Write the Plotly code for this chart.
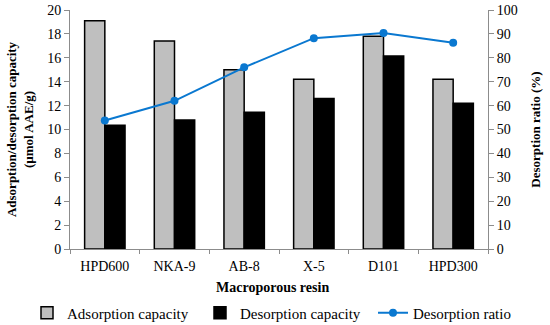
import plotly.graph_objects as go

resins = ["HPD600", "NKA-9", "AB-8", "X-5", "D101", "HPD300"]
adsorption = [19.1, 17.4, 15.0, 14.2, 17.8, 14.2]
desorption = [10.35, 10.8, 11.45, 12.6, 16.15, 12.2]
ratio = [53.8, 62.0, 76.0, 88.2, 90.4, 86.3]

FONT = "Liberation Serif"
AX = "#8c8c8c"
TICKFONT = dict(family=FONT, size=14, color="black")

fig = go.Figure()
fig.add_trace(go.Bar(x=resins, y=adsorption, name="Adsorption capacity", legend="legend",
                     marker=dict(color="#bfbfbf", line=dict(color="black", width=1.5))))
fig.add_trace(go.Bar(x=resins, y=desorption, name="Desorption capacity", legend="legend2",
                     marker=dict(color="black", line=dict(color="black", width=1.5))))
fig.add_trace(go.Scatter(x=resins, y=ratio, name="Desorption ratio", yaxis="y2",
                         legend="legend3",
                         mode="lines+markers", line=dict(color="#0a78d0", width=2),
                         marker=dict(color="#0a78d0", size=8)))

def leg(x):
    return dict(orientation="h", xref="container", yref="container",
                x=x, xanchor="left", y=0.037, yanchor="middle",
                font=dict(family=FONT, size=15), itemwidth=30,
                bgcolor="rgba(0,0,0,0)")

fig.update_layout(
    width=550, height=325,
    margin=dict(l=70, r=62, t=10, b=76, autoexpand=False),
    paper_bgcolor="white", plot_bgcolor="white",
    font=dict(family=FONT, size=14, color="black"),
    barmode="group", bargap=0.42, bargroupgap=0,
    showlegend=True,
    legend=leg(27 / 550),
    legend2=leg(200 / 550),
    legend3=leg(373 / 550),
    xaxis=dict(showline=True, linecolor=AX, linewidth=1, ticks="outside", tickcolor=AX,
               ticklen=4, tickson="boundaries", showgrid=False, tickfont=TICKFONT,
               ticklabelstandoff=4),
    yaxis=dict(range=[0, 20], dtick=2, showline=True, linecolor=AX, ticks="outside",
               tickcolor=AX, ticklen=5, showgrid=False, zeroline=False, tickfont=TICKFONT,
               title=dict(text="<b>Adsorption/desorption capacity<br>(µmol AAE/g)</b>",
                          font=dict(family=FONT, size=13), standoff=10)),
    yaxis2=dict(range=[0, 100], dtick=10, overlaying="y", side="right", showline=True,
                linecolor=AX, ticks="outside", tickcolor=AX, ticklen=5, showgrid=False,
                zeroline=False, tickfont=TICKFONT,
                title=dict(text="<b>Desorption ratio (%)</b>", font=dict(family=FONT, size=13),
                           standoff=14)),
    annotations=[dict(text="<b>Macroporous resin</b>", xref="paper", yref="paper",
                      x=(272 - 70) / 418, y=(249 - 287) / 239, xanchor="center",
                      yanchor="middle", showarrow=False, font=dict(family=FONT, size=14))],
)

fig.write_html("out.html", config={"displayModeBar": False},
               post_script="document.body.style.margin='0';")
